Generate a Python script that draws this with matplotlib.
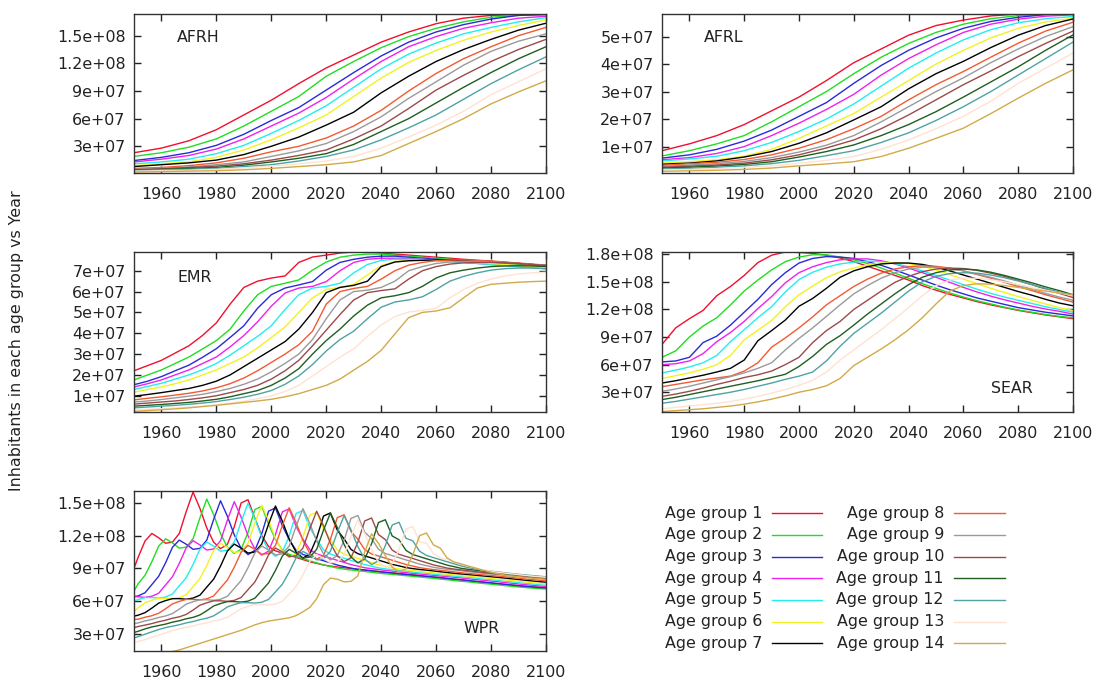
import numpy as np
import matplotlib
matplotlib.use("Agg")
import matplotlib.pyplot as plt
from matplotlib.lines import Line2D
from matplotlib.ticker import FuncFormatter

plt.rcParams['font.family'] = ['DejaVu Sans']

# ---------------------------------------------------------------- data
# inhabitants per age group, in millions
SCALE = 1e6

years_10 = list(range(1950, 2101, 10))
years_5 = list(range(1950, 2101, 5))
years_wpr = ([1950] + [1951.5 + 2.5 * n for n in range(49)]
             + [2076.5, 2081.5, 2086.5, 2091.5, 2096.5, 2100])

age_groups = [f"Age group {i}" for i in range(1, 15)]

afrh = [
    [23, 28, 36, 48, 64, 80, 98, 115, 129, 143, 154, 163, 169, 172, 173, 173],
    [19, 23, 29, 38, 52, 68, 84, 106, 122, 137, 149, 158, 165, 170, 172, 173],
    [14.5, 18, 23, 31, 43, 58, 72, 91, 110, 128, 143, 154, 162, 168, 172, 173],
    [13, 16, 20, 27, 38, 52, 66, 83, 103, 122, 138, 149, 158, 164, 169, 171],
    [11, 13, 16, 22, 31, 44, 58, 74, 94, 114, 130, 142, 152, 159, 165, 169.5],
    [9, 11, 13, 18, 26, 37, 50, 64, 84, 104, 121, 134, 145, 154, 161, 167],
    [8, 10, 12, 15, 21, 30, 40, 53, 67, 88, 106, 122, 135, 146, 156, 163.5],
    [6, 7, 9, 12, 17, 24, 30, 39, 52, 69, 90, 109, 125, 138, 150, 159],
    [5, 6, 7.5, 10, 13, 19, 25, 33, 46, 62, 82, 100, 118, 133, 144, 152],
    [4.5, 5.5, 7, 8.5, 11, 15, 20, 26, 38, 52, 71, 91, 107, 122, 135, 146],
    [4, 5, 6, 7, 9.5, 13, 17, 22, 32, 46, 60, 77, 94, 110, 125, 138],
    [3.5, 4.5, 5, 6, 8, 10, 14, 19, 26, 37, 50, 64, 81, 98, 113, 127],
    [3, 3.5, 4, 5, 6.5, 8.5, 11, 14, 19, 28, 40, 53, 68, 86, 100, 114],
    [2, 2.5, 3, 3.5, 4.5, 6, 8, 10, 13, 20, 33, 46, 60, 76, 89, 101],
]

afrl = [
    [8.5, 11, 14, 18, 23, 28, 34, 40.5, 45.5, 50.5, 54, 56, 57.5, 58.2, 58.2, 58.2],
    [6.6, 8.5, 11, 14, 19, 24.5, 30, 36.5, 42.5, 47.5, 51.5, 54.5, 56.5, 57.6, 58, 58.2],
    [5.8, 7, 9, 12, 16, 21, 26, 33, 39.5, 45, 49.5, 53, 55.5, 57, 58, 58.2],
    [5.2, 6, 7.5, 10, 14, 18.5, 23.5, 29, 36, 42, 47, 51.5, 54.5, 56.3, 57.4, 57.9],
    [4.8, 5.5, 6.5, 8.5, 11.5, 15.5, 20, 25.5, 32, 38.5, 44, 48.8, 52.5, 55, 56.5, 57.3],
    [4, 4.5, 5.2, 6.5, 9, 13, 17.5, 22, 28, 34, 40, 45, 49.5, 53, 55.3, 56.7],
    [3.6, 4, 4.8, 6.2, 8.2, 11.2, 15, 19.7, 24.5, 31, 36.5, 41, 46, 50.5, 54, 56.4],
    [3.2, 3.8, 4.3, 5.3, 7, 9.4, 12.5, 16.5, 21, 27, 32.5, 37.3, 42.5, 47.6, 52, 55.2],
    [2.8, 3.3, 3.8, 4.6, 6, 8, 10.5, 14, 19, 24.5, 30, 35, 40.5, 45.5, 50, 53.6],
    [2.5, 2.9, 3.3, 4, 5.2, 7, 9.5, 12.4, 16.5, 21.5, 27, 32.5, 37.5, 42.7, 47.5, 52],
    [2.2, 2.5, 2.9, 3.5, 4.5, 6.2, 8.2, 10.6, 14, 18, 22.7, 28, 33.5, 39, 45, 50.6],
    [1.8, 2.1, 2.5, 3, 3.8, 5, 6.7, 8.5, 11.5, 15, 19.5, 24.5, 30, 36, 42, 48],
    [1.5, 1.7, 2, 2.4, 3, 3.9, 5, 6.4, 9, 12.4, 16.5, 21, 26.5, 33, 38.5, 44],
    [1, 1.2, 1.4, 1.7, 2.2, 3, 3.7, 4.5, 6.4, 9.4, 13, 16.7, 22, 27.6, 33, 37.9],
]

emr = [
    [22, 24.5, 27, 30.5, 34, 39, 45, 54, 62, 65, 66.5, 67.5, 74, 76.6, 77.5, 78.5, 79, 79, 78.5, 78, 77.5, 77, 76.5, 76, 75.5, 75, 74.5, 74, 73.5, 73, 72.5],
    [17.6, 20, 22.4, 25.5, 28.6, 32.5, 36.5, 42, 50.7, 58.5, 62.5, 64, 65.6, 70.3, 74.2, 76.5, 77.5, 78, 78, 77.5, 77, 76.5, 76, 75.5, 75, 74.5, 74, 73.5, 73, 72.5, 72],
    [15.3, 17, 19.2, 22, 24.7, 28.5, 32.6, 38, 43.6, 52, 58.5, 61.7, 63.2, 64.8, 70.3, 74, 75.5, 76.5, 77, 77, 76.5, 76, 75.5, 75, 74.5, 74, 73.5, 73, 72.5, 72, 71.5],
    [14.2, 15.8, 17.6, 20, 22.4, 25.5, 28.6, 33.5, 38.9, 45.5, 53, 59.3, 61.7, 62.5, 64.8, 70, 74, 75.5, 76, 76, 76, 75.5, 75, 74.5, 74, 73.5, 73, 72.5, 72, 71.5, 71],
    [13, 14.5, 16, 18, 20, 22.5, 25.5, 29.5, 34, 38.5, 43.6, 51.4, 58.5, 61.7, 62.5, 64, 69, 73, 75, 75.5, 75.5, 75.5, 75, 74.5, 74, 73.5, 73, 72.5, 72, 71.5, 71],
    [11.7, 13, 14.2, 15.8, 17.6, 20, 22.4, 25.5, 28.6, 33, 38, 43, 50, 57, 61, 62, 63.5, 68, 72.5, 74.5, 75, 75, 75, 74.8, 74.5, 74, 73.5, 73, 72.5, 72, 71.5],
    [9.8, 10.6, 11.5, 12.5, 13.5, 15, 17, 20, 24, 28, 32, 36, 42, 50, 59.5, 62, 63, 65, 72, 74.2, 74.8, 75, 75.2, 75.2, 75, 74.8, 74.5, 74, 73.5, 73, 72.5],
    [8, 8.8, 9.5, 10.3, 11.2, 12.3, 13.8, 15.8, 18.5, 22, 26, 30, 34.5, 41, 54, 60, 61.5, 62.5, 66, 70, 72.7, 74, 74.8, 75.2, 75.2, 75, 74.7, 74.2, 73.7, 73.2, 72.7],
    [7, 7.5, 8.2, 9, 9.8, 10.7, 12, 13.5, 15.5, 18, 21.5, 25.5, 30, 37, 47, 56, 60, 60.7, 62, 65, 70, 72, 73.5, 74.2, 74.5, 74.5, 74.3, 74, 73.5, 73, 72.5],
    [6, 6.5, 7, 7.5, 8.2, 9, 10, 11.5, 13, 15, 18, 22, 27, 34, 41.5, 49, 56, 59.5, 60.5, 61.3, 66, 70, 72, 73.2, 73.8, 74, 74, 73.8, 73.5, 73, 72.5],
    [5, 5.4, 5.8, 6.3, 6.8, 7.5, 8.3, 9.5, 11, 12.5, 15, 18.5, 23, 30, 36.5, 42, 48.3, 53.5, 57, 58, 59.5, 62.5, 66.5, 69, 70.3, 71.3, 72, 72.3, 72.4, 72.3, 72],
    [4.2, 4.6, 5, 5.4, 5.9, 6.5, 7.2, 8.2, 9.3, 10.7, 12.5, 15.5, 19.5, 25, 31.5, 37, 41, 47, 52.5, 55, 56, 57.5, 61, 65, 67.3, 69, 70.3, 71, 71.3, 71.3, 71],
    [3.2, 3.5, 3.8, 4.2, 4.6, 5.1, 5.7, 6.5, 7.4, 8.6, 10, 12, 15, 19.5, 24, 28.5, 32.5, 38.5, 44, 48, 50.2, 51, 52, 57, 61, 64, 66, 67.5, 68.5, 69, 69.3],
    [2.5, 2.9, 3.3, 3.7, 4.2, 4.8, 5.4, 6.1, 6.8, 7.5, 8.3, 9.5, 11, 13, 15, 18, 22.3, 26.5, 31.8, 39.7, 47.5, 50, 50.7, 52.2, 57, 61.7, 63.5, 64, 64.5, 64.8, 65],
]

sear = [
    [82, 100, 110, 119, 135, 145, 157, 171, 179, 182.5, 182, 181, 179, 176, 172, 167, 162, 157, 152, 146, 141, 136.5, 132.5, 128.5, 125, 122, 119, 116.5, 114, 112, 110],
    [68, 75, 90, 102, 111, 125, 140, 152, 163, 172, 177, 179.5, 179.5, 177, 174, 170, 165, 159.5, 154, 148, 143, 138, 133.5, 129.5, 126, 122.5, 119.5, 117, 114.5, 112.5, 111],
    [63, 64, 68, 84, 91, 103, 117, 131, 147, 160, 170.5, 175.5, 177.5, 177, 175.5, 172, 168, 163, 157.5, 152, 146.5, 141.5, 137, 132.5, 129, 125.5, 122, 119.5, 117, 115, 113],
    [60, 61, 64, 72, 85, 95, 107, 121, 134, 149, 160, 166.5, 171, 174, 175, 175, 173, 169.5, 165, 160, 155, 149.5, 144, 139, 134.5, 130.5, 127, 123.5, 120.5, 118, 115],
    [51, 54, 57.5, 62, 70, 85, 98, 111, 123, 139, 152.5, 160.5, 166, 169.5, 171.5, 172.5, 172, 170, 166.5, 162, 157, 152, 147, 142, 137.5, 133.5, 130, 126.5, 123, 120, 117],
    [45, 48, 51, 55, 60, 70, 87, 97.5, 108, 123, 136, 145.5, 154.5, 161, 165, 168.5, 170.5, 171, 170, 167, 163, 158, 153, 148, 143, 138.5, 134, 130, 126, 122, 119],
    [40, 42.5, 45.5, 48.5, 52, 56, 65, 86, 97, 108.5, 123.5, 132, 143, 155, 162, 166.5, 169.5, 170.5, 170.5, 169, 166, 162, 157.5, 153, 148.5, 144, 139.5, 135.5, 131, 127, 124],
    [36, 38.5, 41, 43.5, 45.5, 47.5, 53, 62, 79, 89, 100, 112, 125, 135, 145, 153, 159.5, 164, 166.5, 167.5, 167, 165, 162, 158, 154, 149.5, 145, 140.5, 136, 132, 128],
    [31, 33.5, 36.5, 40, 43.5, 47, 51, 56, 62, 76, 88.5, 100, 112.5, 125, 137, 146, 154, 160, 164, 166, 166, 164.5, 162, 158.5, 155, 151, 146.5, 142, 137.5, 133.5, 130],
    [25.5, 28, 31, 34.5, 38.5, 42, 46, 49, 53, 60, 68, 84, 97, 107, 120, 130, 140, 149.5, 156, 161, 164, 165, 164.5, 162.5, 159.5, 156, 151.5, 147, 142, 137.5, 133],
    [22, 24.5, 27.5, 30.5, 33.5, 36.5, 39.5, 42.5, 46, 49.5, 58, 69, 82, 91.5, 103, 115, 126, 137, 147, 155, 160, 163, 164, 163, 160.5, 157, 153, 149, 144.5, 140.5, 136],
    [18, 20, 22.5, 25, 27.5, 30, 33, 36.5, 40, 44, 47.5, 52, 64, 80, 94, 105, 116, 128, 140, 150, 156, 159, 160, 159.5, 157.5, 154.5, 151, 147, 143, 139, 135],
    [12, 13.5, 15, 16.5, 18, 20, 22.5, 25.5, 29, 33, 37.5, 43, 52, 65, 76, 87, 98, 110, 122, 135, 146, 152, 154, 154, 152.5, 150, 147, 144, 141, 138, 135],
    [9, 10, 11, 12, 13.5, 15, 17, 19.5, 22.5, 26, 30, 33, 37, 45, 59, 68, 77, 87, 98, 111, 126, 140, 146, 148, 147.5, 146, 144, 142, 140, 138, 136],
]

wpr = [
    [90, 100, 115, 122, 118, 113, 114, 122, 142, 160, 145, 127, 114, 108, 112, 128, 150, 153, 136, 120, 110,
     106, 104, 102, 100, 98, 96, 94.5, 93, 92, 91.2, 90.5, 89.8, 89, 88.3, 87.6, 87, 86.4, 85.8, 85.2, 84.6,
     84, 83.3, 82.6, 82, 81.3, 80.6, 80, 79.3, 78.6, 77.3, 76, 74.8, 73.7, 72.8, 72.3],
    [69, 75.8, 83.5, 96, 110.4, 117.1, 113.3, 108.5, 109.4, 117.1, 136.3, 153.6, 139.2, 121.9, 109.4, 103.7,
     107.5, 122.9, 144, 146.9, 130.6, 116.4, 106.7, 102.8, 100.8, 98.9, 97, 95, 93.1, 91.6, 90.2, 89.2, 88.4,
     87.7, 87.1, 86.3, 85.6, 84.9, 84.4, 83.8, 83.2, 82.6, 82, 81.4, 80.8, 80.1, 79.5, 78.8, 78.1, 77.6,
     76.2, 75, 73.7, 72.5, 71.5, 70.9],
    [64, 64.6, 67.5, 75, 82.7, 95, 109.3, 115.9, 112.1, 107.4, 108.3, 115.9, 134.9, 152, 137.8, 120.7, 108.3,
     102.6, 106.4, 121.6, 142.5, 145.4, 129.2, 116.3, 106.6, 102.7, 100.8, 98.8, 96.9, 95, 93, 91.6, 90.1,
     89.1, 88.4, 87.7, 87, 86.2, 85.6, 84.9, 84.3, 83.7, 83.1, 82.6, 82, 81.4, 80.7, 80, 79.5, 78.8,
     77.5, 76.2, 74.9, 73.6, 72.5, 71.9],
    [64, 63.8, 63.3, 64.3, 67.1, 74.7, 82.2, 94.5, 108.7, 115.3, 111.5, 106.8, 107.7, 115.3, 134.2, 151.2, 137,
     120, 107.7, 102.1, 105.8, 121, 141.8, 144.6, 128.5, 116.8, 107.1, 103.2, 101.2, 99.3, 97.3, 95.4, 93.4,
     92, 90.5, 89.6, 88.8, 88.1, 87.4, 86.6, 86, 85.3, 84.7, 84.1, 83.5, 82.9, 82.3, 81.8, 81.1, 80.4,
     79.1, 77.9, 76.5, 75.2, 74, 73.2],
    [60, 61.2, 63.1, 63.1, 62.6, 63.6, 66.4, 73.9, 81.3, 93.5, 107.5, 114.1, 110.3, 105.7, 106.6, 114.1, 132.8,
     149.6, 135.6, 118.7, 106.6, 101, 104.7, 119.7, 140.3, 143.1, 127.2, 116.7, 107, 103.1, 101.1, 99.2, 97.2,
     95.3, 93.4, 91.9, 90.4, 89.5, 88.7, 88, 87.3, 86.5, 85.9, 85.2, 84.6, 84, 83.4, 82.8, 82.3, 81.7,
     80.3, 79.1, 77.8, 76.4, 75.2, 74.5],
    [50, 53.7, 58.3, 60.6, 62.4, 62.4, 62, 62.9, 65.7, 73.1, 80.5, 92.5, 106.4, 112.9, 109.2, 104.5, 105.5,
     112.9, 131.4, 148, 134.1, 117.5, 105.5, 99.9, 103.6, 118.4, 138.8, 141.5, 125.8, 116.6, 106.8, 103, 101,
     99.1, 97.1, 95.2, 93.2, 91.8, 90.3, 89.4, 88.6, 87.9, 87.2, 86.4, 85.8, 85.1, 84.5, 83.9, 83.3, 82.8,
     81.6, 80.2, 79, 77.7, 76.3, 75.7],
    [46, 46.9, 49.2, 53.4, 58, 60.3, 62.1, 62.1, 61.6, 62.6, 65.3, 72.7, 80, 92, 105.8, 112.2, 108.6, 104,
     104.9, 112.2, 130.6, 147.2, 133.4, 116.8, 104.9, 99.4, 103, 117.8, 138, 140.8, 125.1, 117, 107.3, 103.4,
     101.4, 99.5, 97.5, 95.6, 93.6, 92.2, 90.7, 89.7, 88.9, 88.3, 87.6, 86.8, 86.1, 85.4, 84.8, 84.3,
     83.1, 81.9, 80.6, 79.3, 78, 77.2],
    [43, 43.2, 45, 46.4, 48.7, 52.8, 57.3, 59.6, 61.4, 61.4, 61, 61.9, 64.6, 71.9, 79.2, 91, 104.7, 111, 107.4,
     102.8, 103.7, 111, 129.2, 145.6, 132, 115.6, 103.7, 98.3, 101.9, 116.5, 136.5, 139.2, 123.8, 116.8, 107.1,
     103.2, 101.3, 99.3, 97.4, 95.4, 93.5, 92, 90.6, 89.6, 88.8, 88.1, 87.4, 86.7, 86, 85.3,
     84.1, 83, 81.8, 80.4, 79.2, 78.5],
    [39, 39.8, 41.6, 43, 44.8, 46.2, 48.4, 52.5, 57, 59.3, 61.1, 61.1, 60.6, 61.5, 64.3, 71.5, 78.7, 90.5,
     104.1, 110.4, 106.8, 102.3, 103.2, 110.4, 128.5, 144.8, 131.2, 114.9, 103.2, 97.7, 101.4, 115.8, 135.8,
     138.5, 123.1, 117.3, 107.5, 103.6, 101.6, 99.7, 97.7, 95.8, 93.8, 92.4, 90.9, 89.9, 89.1, 88.5, 87.8, 87,
     85.6, 84.4, 83.3, 82.1, 80.7, 80],
    [35.5, 36.5, 37.8, 39.2, 40.9, 42.3, 44.1, 45.4, 47.6, 51.6, 56.1, 58.3, 60.1, 60.1, 59.6, 60.5, 63.2,
     70.3, 77.4, 89, 102.4, 108.6, 105, 100.6, 101.5, 108.6, 126.4, 142.4, 129, 113, 101.5, 96.1, 99.7, 113.9,
     133.5, 136.2, 121, 116.4, 106.7, 102.8, 100.9, 99, 97, 95.1, 93.1, 91.7, 90.2, 89.3, 88.5, 87.8,
     86.3, 85, 83.8, 82.7, 81.5, 80.7],
    [31, 32.1, 34.3, 36.1, 37.4, 38.7, 40.5, 41.8, 43.6, 44.9, 47.1, 51, 55.4, 57.6, 59.4, 59.4, 59, 59.8,
     62.5, 69.5, 76.6, 88, 101.2, 107.4, 103.8, 99.4, 100.3, 107.4, 125, 140.8, 127.6, 111.8, 100.3, 95, 98.6,
     112.6, 132, 134.6, 119.7, 116.2, 106.5, 102.6, 100.7, 98.7, 96.8, 94.9, 92.9, 91.5, 90, 89.1,
     87.6, 86.2, 84.8, 83.6, 82.5, 81.7],
    [26, 27.2, 29.4, 31.6, 33.7, 35.5, 36.8, 38.1, 39.8, 41.1, 42.8, 44.1, 46.3, 50.2, 54.5, 56.7, 58.4, 58.4,
     58, 58.8, 61.4, 68.3, 75.3, 86.5, 99.5, 105.5, 102.1, 97.7, 98.6, 105.5, 122.8, 138.4, 125.4, 109.9,
     98.6, 93.4, 96.9, 110.7, 129.8, 132.3, 117.6, 115.2, 105.6, 101.8, 99.8, 97.9, 96, 94.1, 92.2, 90.7,
     88.3, 86.9, 85.4, 84.1, 82.9, 82.2],
    [22, 22.7, 24.4, 26.5, 28.6, 30.7, 32.8, 34.4, 35.7, 37, 38.6, 39.9, 41.6, 42.8, 44.9, 48.7, 52.9, 55,
     56.7, 56.7, 56.3, 57.1, 59.6, 66.4, 73.1, 84, 96.6, 102.5, 99.1, 94.9, 95.8, 102.5, 119.3, 134.4, 121.8,
     106.7, 95.8, 90.7, 94.1, 107.5, 126, 128.5, 114.2, 112.9, 103.5, 99.7, 97.8, 96, 94.1, 92.2,
     88.9, 86.6, 85.1, 83.7, 82.4, 81.8],
    [12, 11, 11.5, 12, 12.5, 13, 13.5, 15, 17, 19, 21, 23, 25, 27, 29, 31, 33, 35.5, 38, 40, 41.5, 42.5, 43.5,
     44.5, 46.5, 50, 54, 62, 75, 81, 80, 77.5, 78, 83, 105, 121.6, 113, 101.6, 91.2, 86.4, 89.6, 102.4, 120,
     122.4, 111.5, 108.5, 99.4, 95.8, 94, 92.2,
     88.6, 85.4, 83.2, 81.8, 80.5, 79.9],
]

# ---------------------------------------------------------------- style
colors = ['#f0102e', '#22dd22', '#2a2ad8', '#ee22ee', '#22eeee', '#f2f222',
          '#000000', '#f25a32', '#9a9a9a', '#9c4a4a', '#1f5f1f', '#4fa3a3',
          '#ffe2d2', '#d2aa48']

W, H = 1097, 682
fig = plt.figure(figsize=(W / 100, H / 100), dpi=100)


def box(l, t, r, b):
    return [l / W, 1 - b / H, (r - l) / W, (b - t) / H]


panels = [
    # name, data, years, y-range (millions), y-ticks (millions), box px, label pos
    ("AFRH", afrh, years_10, (1.0, 173.5), [30, 60, 90, 120, 150],
     box(134, 14, 546, 173), (0.105, 0.85)),
    ("AFRL", afrl, years_10, (0.4, 58.2), [10, 20, 30, 40, 50],
     box(662, 14, 1073, 173), (0.103, 0.85)),
    ("EMR", emr, years_5, (2.2, 79.0), [10, 20, 30, 40, 50, 60, 70],
     box(134, 252, 546, 412), (0.105, 0.84)),
    ("SEAR", sear, years_5, (8.5, 182.5), [30, 60, 90, 120, 150, 180],
     box(662, 252, 1073, 412), (0.80, 0.145)),
    ("WPR", wpr, years_wpr, (14.0, 161.0), [30, 60, 90, 120, 150],
     box(134, 491, 546, 651), (0.80, 0.14)),
]

FS = 11.4
fmt = FuncFormatter(lambda v, p: f"{v:g}")

for name, data, yrs, ylim, yt, rect, lpos in panels:
    ax = fig.add_axes(rect)
    for series, col in zip(data, colors):
        ax.plot(yrs, np.array(series) * SCALE, color=col, lw=1.0)
    ax.set_xlim(1950, 2100)
    ax.set_ylim(ylim[0] * SCALE, ylim[1] * SCALE)
    ax.set_xticks(range(1960, 2101, 20))
    ax.set_yticks([v * SCALE for v in yt])
    ax.yaxis.set_major_formatter(fmt)
    ax.tick_params(direction='in', length=5, width=1, top=True, right=True,
                   labelsize=FS, colors='#222222')
    ax.tick_params(axis='x', pad=10)
    ax.tick_params(axis='y', pad=6)
    for sp in ax.spines.values():
        sp.set_linewidth(1.0)
        sp.set_color('#333333')
    ax.text(lpos[0], lpos[1], name, transform=ax.transAxes, fontsize=FS,
            color='#222222', ha='left', va='center')

fig.text(17 / W, 0.5, "Inhabitants in each age group vs Year", rotation=90,
         ha='center', va='center', fontsize=FS, color='#222222')

# key: two columns, text right-aligned with the sample line after it
row0, dy = 513.3, 21.67
cols = [(762, 772, 822), (944, 954, 1005)]
for i, (lab, col) in enumerate(zip(age_groups, colors)):
    c, r = divmod(i, 7)
    tx, lx0, lx1 = cols[c]
    yy = 1 - (row0 + r * dy) / H
    fig.text(tx / W, yy, lab, ha='right', va='center', fontsize=FS,
             color='#222222')
    fig.add_artist(Line2D([lx0 / W, lx1 / W], [yy, yy],
                          transform=fig.transFigure, color=col, lw=1.0))

fig.savefig("out.png", dpi=100)
